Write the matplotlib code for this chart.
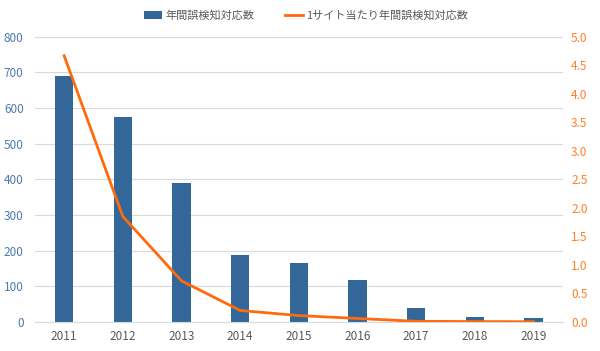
import matplotlib
matplotlib.use("Agg")
import matplotlib.pyplot as plt
import numpy as np

plt.rcParams['font.family'] = ['Noto Sans CJK JP', 'DejaVu Sans']

years = ["2011", "2012", "2013", "2014", "2015", "2016", "2017", "2018", "2019"]
annual_counts = [690, 575, 390, 188, 165, 118, 40, 15, 10]
per_site = [4.67, 1.85, 0.72, 0.20, 0.11, 0.06, 0.01, 0.005, 0.003]

bar_label = "年間誤検知対応数"
line_label = "1サイト当たり年間誤検知対応数"

bar_color = "#336699"
line_color = "#ff6a0d"

fig = plt.figure(figsize=(6, 3.51), dpi=100)
ax = fig.add_axes([0.058, 0.083, 0.88, 0.812])
ax2 = ax.twinx()

x = np.arange(len(years))
ax.bar(x, annual_counts, width=0.31, color=bar_color, label=bar_label, zorder=2)
ax2.plot(x, per_site, color=line_color, lw=2, label=line_label, zorder=3)

ax.set_xlim(-0.5, len(years) - 0.5)
ax.set_ylim(0, 800)
ax.set_yticks(range(0, 801, 100))
ax2.set_ylim(0, 5)
ax2.set_yticks(np.arange(0, 5.01, 0.5))
ax2.set_yticklabels([f"{v:.1f}" for v in np.arange(0, 5.01, 0.5)])

ax.set_xticks(x)
ax.set_xticklabels(years)
ax.grid(axis="y", color="#d9d9d9", lw=0.8, zorder=0)
ax.set_axisbelow(True)

for a in (ax, ax2):
    for s in a.spines.values():
        s.set_visible(False)
    a.tick_params(length=0)
ax.spines["bottom"].set_visible(True)
ax.spines["bottom"].set_color("#d9d9d9")

ax.tick_params(axis="y", colors="#4a7bb0", labelsize=8.5, pad=8)
ax.tick_params(axis="x", colors="#595959", labelsize=8.5, pad=6)
ax2.tick_params(axis="y", colors="#ff7f27", labelsize=8.5, pad=6)

h1, l1 = ax.get_legend_handles_labels()
h2, l2 = ax2.get_legend_handles_labels()
fig.legend(h1 + h2, l1 + l2, loc="upper center", bbox_to_anchor=(0.51, 1.0),
           ncol=2, frameon=False, fontsize=8, labelcolor="#595959",
           handlelength=1.6, handletextpad=0.3, columnspacing=2.8)

fig.savefig("out.png", dpi=100)
